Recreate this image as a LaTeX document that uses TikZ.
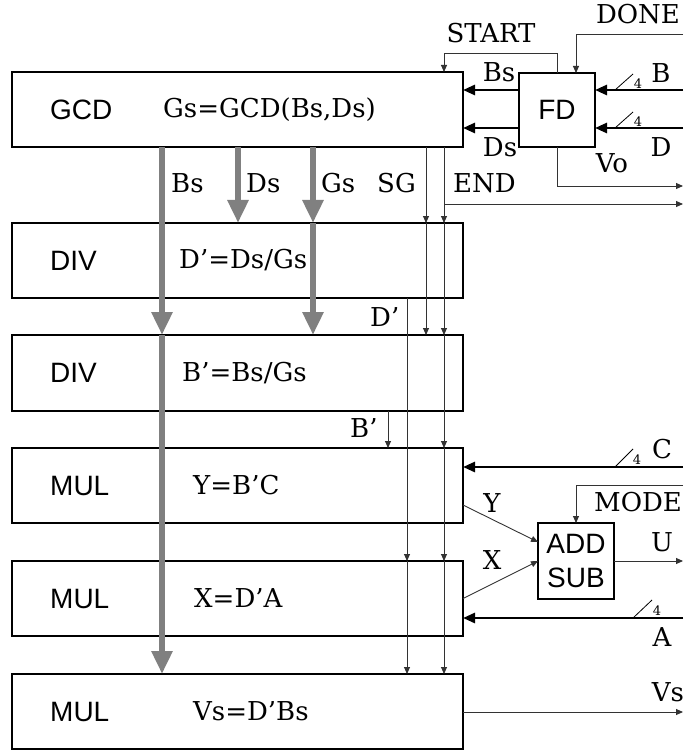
\documentclass[tikz,border=0pt]{standalone}
\usepackage{fontspec}
\setmainfont{DejaVu Serif}
\newfontfamily\blockfont{Liberation Sans}
\usetikzlibrary{arrows.meta}

\begin{document}
\begin{tikzpicture}[x=1pt, y=-1pt, font=\fontsize{26}{34}\selectfont,
  blk/.style={draw, line width=1.2pt, outer sep=0pt, inner sep=0pt},
  unit/.style={font=\fontsize{28}{34}\selectfont\blockfont, anchor=west, inner sep=0pt},
  eqn/.style={anchor=west, inner sep=0pt},
  lbl/.style={inner sep=0pt},
  four/.style={inner sep=0pt, font=\fontsize{13}{13}\selectfont},
  sig/.style={draw=black!80, line width=0.9pt, -{Triangle[length=7pt,width=6pt]}},
  bus/.style={line width=2.7pt, -{Triangle[length=12pt,width=10pt]}},
  fat/.style={draw=gray, line width=6.5pt, -{Triangle[length=23pt,width=20pt]}},
  slash/.style={line width=0.8pt}]
\useasboundingbox (0,0) rectangle (683,751);
\node[blk, minimum width=451pt, minimum height=75pt] at (237.5,109.5) (gcd) {};
\node[blk, minimum width=451pt, minimum height=75pt] at (237.5,260.5) (div1) {};
\node[blk, minimum width=451pt, minimum height=76pt] at (237.5,373) (div2) {};
\node[blk, minimum width=451pt, minimum height=75pt] at (237.5,485.5) (mul1) {};
\node[blk, minimum width=451pt, minimum height=75pt] at (237.5,598.5) (mul2) {};
\node[blk, minimum width=451pt, minimum height=75pt] at (237.5,711.5) (mul3) {};
\node[blk, minimum width=76pt, minimum height=74pt, font=\fontsize{28}{34}\selectfont\blockfont] at (557,110) (fd) {FD};
\node[blk, minimum width=76pt, minimum height=76pt, align=center, font=\fontsize{28}{34}\selectfont\blockfont] at (576,561) (addsub) {ADD\\SUB};
\node[unit] at (50,109.5) (gcd name) {GCD};
\node[unit] at (50,260.5) (div1 name) {DIV};
\node[unit] at (50,373) (div2 name) {DIV};
\node[unit] at (50,485.5) (mul1 name) {MUL};
\node[unit] at (50,598.5) (mul2 name) {MUL};
\node[unit] at (50,711.5) (mul3 name) {MUL};
\node[eqn] at (163,109.5) (gcd eq) {Gs=GCD(Bs,Ds)};
\node[eqn] at (179,260.5) (div1 eq) {D’=Ds/Gs};
\node[eqn] at (182,373) (div2 eq) {B’=Bs/Gs};
\node[eqn] at (193,485.5) (mul1 eq) {Y=B’C};
\node[eqn] at (194,598.5) (mul2 eq) {X=D’A};
\node[eqn] at (193,711.5) (mul3 eq) {Vs=D’Bs};
\coordinate (bsx) at (162,0);
\coordinate (dsx) at (238,0);
\coordinate (gsx) at (313,0);
\coordinate (bpx) at (388,0);
\coordinate (dpx) at (407,0);
\coordinate (sgx) at (426,0);
\coordinate (endx) at (444,0);
\coordinate (ctlx) at (576,0);
\coordinate (done in) at (683,34);
\coordinate (b in) at (683,90);
\coordinate (d in) at (683,128);
\coordinate (vo out) at (683,186);
\coordinate (end out) at (683,204);
\coordinate (c in) at (683,467);
\coordinate (mode in) at (683,485);
\coordinate (u out) at (683,561);
\coordinate (a in) at (683,618);
\coordinate (vs out) at (683,712);
\draw[fat] (gcd.south -| bsx) -- (div2.north -| bsx);
\draw[fat] (div2.north -| bsx) -- (mul3.north -| bsx);
\draw[fat] (gcd.south -| dsx) -- (div1.north -| dsx);
\draw[fat] (gcd.south -| gsx) -- (div1.north -| gsx);
\draw[fat] (div1.north -| gsx) -- (div2.north -| gsx);
\draw[sig] (gcd.south -| sgx) -- (div1.north -| sgx);
\draw[sig] (div1.north -| sgx) -- (div2.north -| sgx);
\draw[sig] (gcd.south -| endx) -- (div1.north -| endx);
\draw[sig] (div1.north -| endx) -- (div2.north -| endx);
\draw[sig] (div2.north -| endx) -- (mul1.north -| endx);
\draw[sig] (mul1.north -| endx) -- (mul2.north -| endx);
\draw[sig] (mul2.north -| endx) -- (mul3.north -| endx);
\draw[sig] (end out -| endx) -- (end out);
\draw[sig] (div1.south -| dpx) -- (mul2.north -| dpx);
\draw[sig] (mul2.north -| dpx) -- (mul3.north -| dpx);
\draw[sig] (div2.south -| bpx) -- (mul1.north -| bpx);
\draw[sig] (fd.north) -- ++(0,-20) -| (gcd.north -| endx);
\draw[sig] (done in) -| (fd.north -| ctlx);
\draw[sig] (fd.south) |- (vo out);
\draw[bus] ([yshift=20pt]fd.west) -- ([yshift=20pt]fd.west -| gcd.east);
\draw[bus] ([yshift=-18pt]fd.west) -- ([yshift=-18pt]fd.west -| gcd.east);
\draw[bus] (b in) -- (b in -| fd.east);
\draw[bus] (d in) -- (d in -| fd.east);
\draw[bus] (c in) -- (c in -| mul1.east);
\draw[bus] (a in) -- (a in -| mul2.east);
\draw[slash] ([xshift=-68pt]b in) -- ++(18,-16);
\draw[slash] ([xshift=-68pt]d in) -- ++(18,-16);
\draw[slash] ([xshift=-68pt]c in) -- ++(18,-18);
\draw[slash] ([xshift=-50pt]a in) -- ++(19,-18);
\draw[sig] ([yshift=-19.5pt]mul1.east) -- ([yshift=19pt]addsub.west);
\draw[sig] (mul2.east) -- (addsub.west);
\draw[sig] (mode in) -| (addsub.north);
\draw[sig] (addsub.east) -- (u out);
\draw[sig] (mul3.east |- vs out) -- (vs out);
\node[lbl] at (491,33) (start lbl) {START};
\node[lbl] at (638,14) (done lbl) {DONE};
\node[lbl] at (499,72) (bs top) {Bs};
\node[lbl] at (500,147) (ds top) {Ds};
\node[lbl] at (661,73) (b lbl) {B};
\node[lbl] at (661,147) (d lbl) {D};
\node[lbl] at (612,163) (vo lbl) {Vo};
\node[four] at (638,84) (b four) {4};
\node[four] at (638,122) (d four) {4};
\node[eqn] at (171,183) (bs lbl) {Bs};
\node[eqn] at (246,183) (ds lbl) {Ds};
\node[eqn] at (321,183) (gs lbl) {Gs};
\node[eqn] at (377,183) (sg lbl) {SG};
\node[eqn] at (453,183) (end lbl) {END};
\node[eqn] at (370,317) (dp lbl) {D’};
\node[eqn] at (350,428) (bp lbl) {B’};
\node[lbl] at (662,449) (c lbl) {C};
\node[four] at (637,460) (c four) {4};
\node[lbl] at (638,502) (mode lbl) {MODE};
\node[lbl] at (662,542) (u lbl) {U};
\node[lbl] at (492,503) (y lbl) {Y};
\node[lbl] at (492,560) (x lbl) {X};
\node[four] at (657,611) (a four) {4};
\node[lbl] at (662,637) (a lbl) {A};
\node[lbl] at (668,692) (vs lbl) {Vs};
\end{tikzpicture}
\end{document}
